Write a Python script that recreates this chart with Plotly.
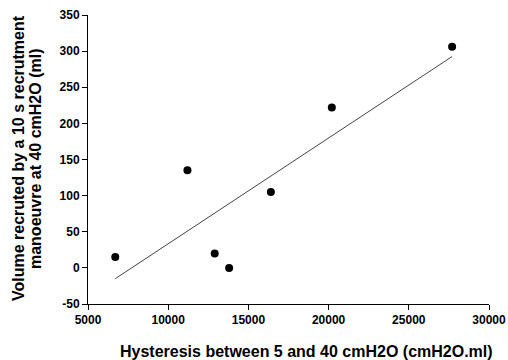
import numpy as np
import plotly.graph_objects as go

hysteresis = [6700, 11200, 12900, 13800, 16400, 20200, 27700]
volume = [15, 135, 20, 0, 105, 222, 306]

x_ticks = [5000, 10000, 15000, 20000, 25000, 30000]
y_ticks = [-50, 0, 50, 100, 150, 200, 250, 300, 350]

x_title = "Hysteresis between 5 and 40 cmH2O (cmH2O.ml)"
y_title_lines = ["Volume recruted by a 10 s recrutment", "manoeuvre at 40 cmH2O (ml)"]

slope, intercept = np.polyfit(hysteresis, volume, 1)
fit_x = [min(hysteresis), max(hysteresis)]
fit_y = [slope * v + intercept for v in fit_x]

font = "Liberation Sans, Arial, sans-serif"

fig = go.Figure()
fig.add_trace(go.Scatter(x=fit_x, y=fit_y, mode="lines",
                         line=dict(color="#444444", width=1), showlegend=False))
fig.add_trace(go.Scatter(x=hysteresis, y=volume, mode="markers",
                         marker=dict(color="black", size=8), showlegend=False))

axis_common = dict(showgrid=False, zeroline=False, showline=True, linecolor="black", linewidth=1,
                   ticks="outside", ticklen=5, tickcolor="black", automargin=False,
                   tickfont=dict(family=font, size=12, color="black", weight="bold"))

fig.update_layout(
    width=508, height=360,
    margin=dict(l=88, r=19, t=15, b=56),
    paper_bgcolor="white", plot_bgcolor="white",
    font=dict(family=font, size=12, color="black"),
    xaxis=dict(range=[5000, 30000], tickvals=x_ticks, ticktext=[str(v) for v in x_ticks],
               **axis_common),
    yaxis=dict(range=[-50, 350], tickvals=y_ticks, ticktext=[str(v) for v in y_ticks],
               **axis_common),
    annotations=[
        dict(text="<b>" + x_title + "</b>", xref="paper", yref="paper", x=0.546, y=-0.163,
             xanchor="center", yanchor="middle", showarrow=False,
             font=dict(family=font, size=16, color="black")),
        dict(text="<b>" + y_title_lines[0] + "</b>", xref="paper", yref="paper", x=-0.1746, y=0.505,
             xanchor="center", yanchor="middle", textangle=-90, showarrow=False,
             font=dict(family=font, size=16, color="black")),
        dict(text="<b>" + y_title_lines[1] + "</b>", xref="paper", yref="paper", x=-0.1322, y=0.505,
             xanchor="center", yanchor="middle", textangle=-90, showarrow=False,
             font=dict(family=font, size=16, color="black")),
    ],
)

fig.write_html("out.html")
